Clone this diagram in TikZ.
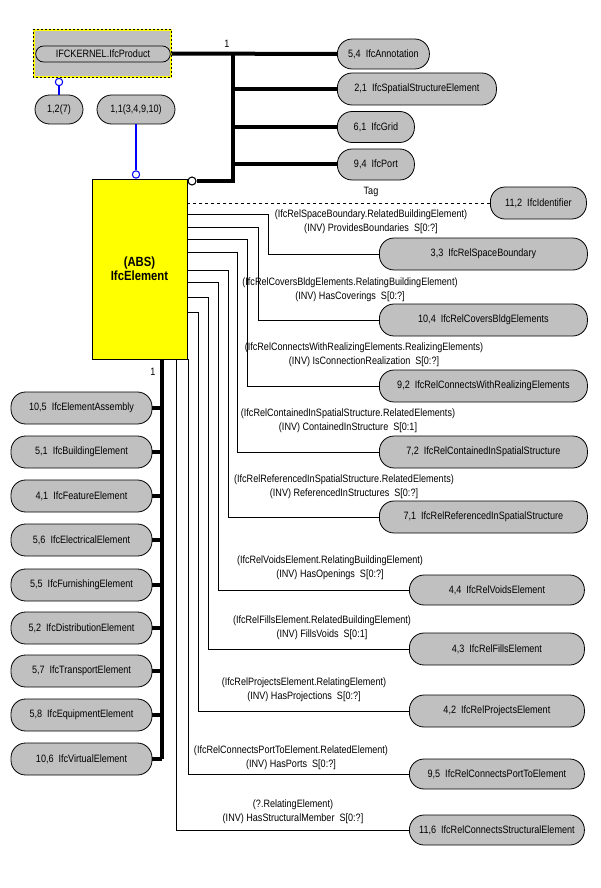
\documentclass[tikz,border=0pt]{standalone}
\usepackage{fontspec}
\setmainfont{Liberation Sans}[FakeStretch=0.85]
\usepackage{xcolor}
\usepackage{tikz}
\usetikzlibrary{positioning,calc}
\definecolor{pillgray}{HTML}{C0C0C0}
\definecolor{boxyellow}{HTML}{FFFF00}
\definecolor{linkblue}{HTML}{0000FF}
\tikzset{
  pill/.style={draw=black, line width=0.6pt, fill=pillgray, rounded corners=11pt,
    minimum height=24pt, inner sep=1pt, font=\fontsize{8}{10}\selectfont},
  rellabel/.style={align=center, inner sep=0pt, font=\fontsize{8}{10.5}\selectfont},
  elbox/.style={draw=black, line width=0.6pt, fill=boxyellow, minimum width=71.25pt,
    minimum height=135pt, align=center, font=\bfseries\fontsize{10}{10.5}\selectfont},
  kernbox/.style={fill=pillgray, draw=boxyellow, line width=0.8pt,
    minimum width=102.75pt, minimum height=35.25pt},
  thickline/.style={line width=3pt},
  thinline/.style={line width=0.6pt},
  bluelink/.style={line width=1.5pt, draw=linkblue},
  bluering/.style={circle, draw=linkblue, fill=white, line width=0.8pt, minimum size=5.5pt, inner sep=0pt},
  openring/.style={circle, draw=black, fill=white, line width=0.8pt, minimum size=6pt, inner sep=0pt},
}

\begin{document}
\begin{tikzpicture}[x=0.75pt, y=-0.75pt, font=\fontsize{8}{10}\selectfont]
    \useasboundingbox (0,0) rectangle (600,888);

    % supertype
    \node[kernbox] (kern) at (102.5,53.5) {};
    \draw[line width=0.8pt, dash pattern=on 1.5pt off 1.5pt] (kern.south west) rectangle (kern.north east);
    \node[draw, line width=0.6pt, rounded corners=6pt, minimum width=101pt, minimum height=12pt, inner sep=0pt] (prod) at (103,54) {IFCKERNEL.IfcProduct};

    % references
    \node[pill, minimum width=36pt, minimum height=21.75pt] (rep2) at (59,109.5) {1,2(7)};
    \node[pill, minimum width=58.5pt, minimum height=21.75pt] (rep1) at (136,109.5) {1,1(3,4,9,10)};
    \node[bluering] (kring) at (59,82) {};
    \draw[bluelink] (kring.south) -- (rep2.north);

    % the entity
    \node[elbox] (el) at (139.5,269) {(ABS)\\IfcElement};
    \node[bluering] (ering) at (136,174.5) {};
    \draw[bluelink] (rep1.south) -- (ering.north);
    \node[openring] (orng) at (192,181) {};

    % subtypes of IfcProduct
    \node[pill, anchor=west, minimum width=69pt, minimum height=22.5pt] (ann) at (337,54) {5,4\ \ IfcAnnotation};
    \node[pill, anchor=west, minimum width=119.25pt] (sse) at (337,89) {2,1\ \ IfcSpatialStructureElement};
    \node[pill, anchor=west, minimum width=57.75pt, minimum height=23.25pt] (grid) at (337,127) {6,1\ \ IfcGrid};
    \node[pill, anchor=west, minimum width=57.75pt, minimum height=23.25pt] (port) at (337,164.5) {9,4\ \ IfcPort};
    \coordinate (trunk) at (233,54);
    \node (kone) at (227,44) {1};
    \draw[thickline] (kern.east) -- (ann.west);
    \draw[thickline] (orng.east) -| (trunk);
    \draw[thickline] (trunk |- sse.west) -- (sse.west);
    \draw[thickline] (trunk |- grid.west) -- (grid.west);
    \draw[thickline] (trunk |- port.west) -- (port.west);

    % tag
    \node[pill, anchor=west, minimum width=72pt] (ident) at (490,203) {11,2\ \ IfcIdentifier};
    \node (tag) at (371,192) {Tag};
    \draw[thinline, dash pattern=on 2.25pt off 2.25pt] (el.east |- ident.west) -- (ident.west);

    % inverse relations
    \node[pill, anchor=west, minimum width=156pt] (r1) at (379,254) {3,3\ \ IfcRelSpaceBoundary};
    \node[pill, anchor=west, minimum width=156pt] (r2) at (379,320) {10,4\ \ IfcRelCoversBldgElements};
    \node[pill, anchor=west, minimum width=156pt] (r3) at (379,386) {9,2\ \ IfcRelConnectsWithRealizingElements};
    \node[pill, anchor=west, minimum width=156pt] (r4) at (379,452) {7,2\ \ IfcRelContainedInSpatialStructure};
    \node[pill, anchor=west, minimum width=156pt] (r5) at (379,517) {7,1\ \ IfcRelReferencedInSpatialStructure};
    \node[pill, anchor=west, minimum width=131.25pt, minimum height=22.5pt] (r6) at (409,590) {4,4\ \ IfcRelVoidsElement};
    \node[pill, anchor=west, minimum width=131.25pt] (r7) at (409,649) {4,3\ \ IfcRelFillsElement};
    \node[pill, anchor=west, minimum width=131.25pt] (r8) at (409,711) {4,2\ \ IfcRelProjectsElement};
    \node[pill, anchor=west, minimum width=131.25pt, minimum height=22.5pt] (r9) at (409,774) {9,5\ \ IfcRelConnectsPortToElement};
    \node[pill, anchor=west, minimum width=131.25pt, minimum height=22.5pt] (r10) at (409,830) {11,6\ \ IfcRelConnectsStructuralElement};

    \coordinate (b1) at (268,214);
    \coordinate (b2) at (258,227);
    \coordinate (b3) at (247,239);
    \coordinate (b4) at (237,252);
    \coordinate (b5) at (228,270);
    \coordinate (b6) at (218,282);
    \coordinate (b7) at (208,297);
    \coordinate (b8) at (198,312);
    \coordinate (b9) at (188,359);
    \coordinate (b10) at (176,359);
    \draw[thinline] (el.east |- b1) -- (b1) |- (r1.west);
    \draw[thinline] (el.east |- b2) -- (b2) |- (r2.west);
    \draw[thinline] (el.east |- b3) -- (b3) |- (r3.west);
    \draw[thinline] (el.east |- b4) -- (b4) |- (r4.west);
    \draw[thinline] (el.east |- b5) -- (b5) |- (r5.west);
    \draw[thinline] (el.east |- b6) -- (b6) |- (r6.west);
    \draw[thinline] (el.east |- b7) -- (b7) |- (r7.west);
    \draw[thinline] (el.east |- b8) -- (b8) |- (r8.west);
    \draw[thinline] (b9) |- (r9.west);
    \draw[thinline] (b10) |- (r10.west);

    \node[rellabel] (t1) at (371,222) {(IfcRelSpaceBoundary.RelatedBuildingElement)\\(INV) ProvidesBoundaries\ \ S[0:?]};
    \node[rellabel] (t2) at (350,289.5) {(IfcRelCoversBldgElements.RelatingBuildingElement)\\(INV) HasCoverings\ \ S[0:?]};
    \node[rellabel] (t3) at (364,355) {(IfcRelConnectsWithRealizingElements.RealizingElements)\\(INV) IsConnectionRealization\ \ S[0:?]};
    \node[rellabel] (t4) at (348,421) {(IfcRelContainedInSpatialStructure.RelatedElements)\\(INV) ContainedInStructure\ \ S[0:1]};
    \node[rellabel] (t5) at (344,486.5) {(IfcRelReferencedInSpatialStructure.RelatedElements)\\(INV) ReferencedInStructures\ \ S[0:?]};
    \node[rellabel] (t6) at (330,568) {(IfcRelVoidsElement.RelatingBuildingElement)\\(INV) HasOpenings\ \ S[0:?]};
    \node[rellabel] (t7) at (322,628) {(IfcRelFillsElement.RelatedBuildingElement)\\(INV) FillsVoids\ \ S[0:1]};
    \node[rellabel] (t8) at (304,689.5) {(IfcRelProjectsElement.RelatingElement)\\(INV) HasProjections\ \ S[0:?]};
    \node[rellabel] (t9) at (291,758) {(IfcRelConnectsPortToElement.RelatedElement)\\(INV) HasPorts\ \ S[0:?]};
    \node[rellabel] (t10) at (293,812) {(?.RelatingElement)\\(INV) HasStructuralMember\ \ S[0:?]};

    % subtypes of IfcElement
    \node[pill, minimum width=105.75pt] (l1) at (81.5,408) {10,5\ \ IfcElementAssembly};
    \node[pill, minimum width=105.75pt] (l2) at (81.5,452) {5,1\ \ IfcBuildingElement};
    \node[pill, minimum width=105.75pt] (l3) at (81.5,496) {4,1\ \ IfcFeatureElement};
    \node[pill, minimum width=105.75pt] (l4) at (81.5,540) {5,6\ \ IfcElectricalElement};
    \node[pill, minimum width=105.75pt] (l5) at (81.5,585) {5,5\ \ IfcFurnishingElement};
    \node[pill, minimum width=105.75pt] (l6) at (81.5,628) {5,2\ \ IfcDistributionElement};
    \node[pill, minimum width=105.75pt] (l7) at (81.5,671) {5,7\ \ IfcTransportElement};
    \node[pill, minimum width=105.75pt] (l8) at (81.5,715) {5,8\ \ IfcEquipmentElement};
    \node[pill, minimum width=105.75pt] (l9) at (81.5,759) {10,6\ \ IfcVirtualElement};
    \coordinate (spine) at (162,359);
    \node (sone) at (153,372) {1};
    \draw[thickline] (spine) -- (spine |- l9.east);
    \draw[thickline] (l1.east) -- (l1.east -| spine);
    \draw[thickline] (l2.east) -- (l2.east -| spine);
    \draw[thickline] (l3.east) -- (l3.east -| spine);
    \draw[thickline] (l4.east) -- (l4.east -| spine);
    \draw[thickline] (l5.east) -- (l5.east -| spine);
    \draw[thickline] (l6.east) -- (l6.east -| spine);
    \draw[thickline] (l7.east) -- (l7.east -| spine);
    \draw[thickline] (l8.east) -- (l8.east -| spine);
    \draw[thickline] (l9.east) -- (l9.east -| spine);
\end{tikzpicture}
\end{document}
